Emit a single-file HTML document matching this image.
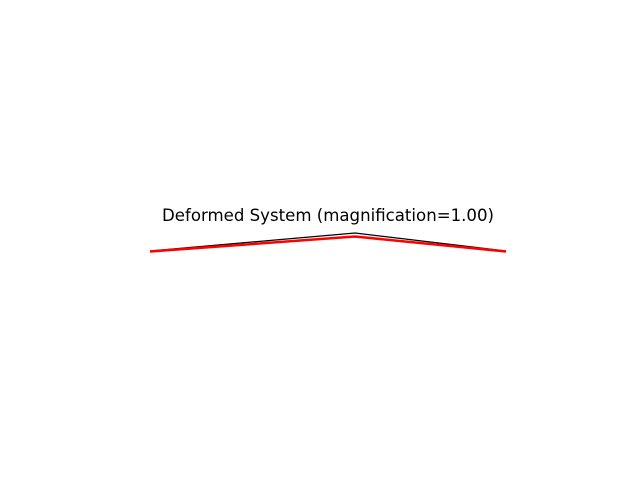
<!DOCTYPE html>
<html><head><meta charset="utf-8"><style>
html,body{margin:0;padding:0;background:#fff;}
svg{display:block;}
</style></head><body>
<svg width="640" height="480" xmlns="http://www.w3.org/2000/svg">
<rect width="640" height="480" fill="#fff"/>
<text x="328" y="221" text-anchor="middle" textLength="332" lengthAdjust="spacingAndGlyphs" font-family="DejaVu Sans, Liberation Sans, sans-serif" font-size="16.6" fill="#000">Deformed System (magnification=1.00)</text>
<polyline points="150,251 355,233 506,251" fill="none" stroke="#000" stroke-width="1.2"/>
<polyline points="150,251.5 355,236.5 506,251.5" fill="none" stroke="#f00" stroke-width="2.5"/>
</svg>
</body></html>
